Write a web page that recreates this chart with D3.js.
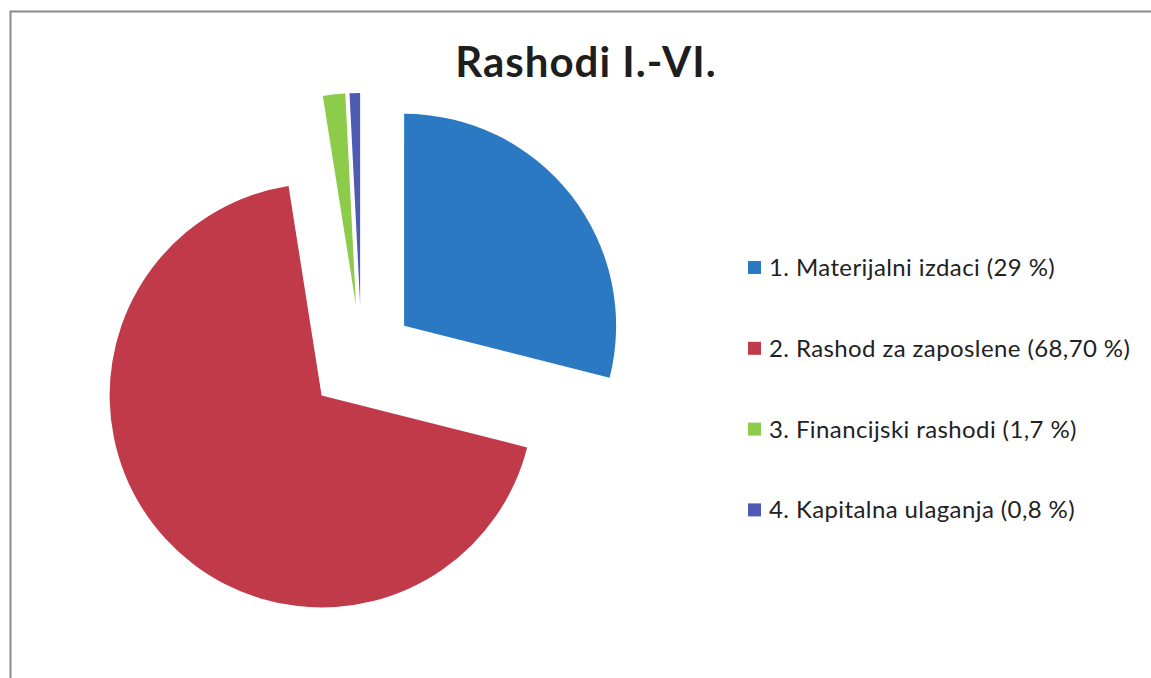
<!DOCTYPE html>
<html>
<head>
<meta charset="utf-8">
<script src="https://cdn.jsdelivr.net/npm/d3@7"></script>
<style>
  body { margin: 0; background: #fff; }
  svg { display: block; }
</style>
</head>
<body>
<div class="container"></div>
<script>
// data
const title = 'Rashodi I.-VI.';
const categories = ['1. Materijalni izdaci', '2. Rashod za zaposlene', '3. Financijski rashodi', '4. Kapitalna ulaganja'];
const values = [29, 68.7, 1.7, 0.8];
const valueLabels = ['29 %', '68,70 %', '1,7 %', '0,8 %'];

// config
const config = {
  width: 1151,
  height: 678,
  center: { x: 361.5, y: 359 },
  radius: 212,
  explode: 54,
  legend: { x: 748, y: 267.5, step: 80.8, box: 13, textGap: 8 },
  color: ['#2b79c2', '#c13a4a', '#8dcc4b', '#4f5ab5'],
};

const svg = d3.select('.container')
  .append('svg')
  .attr('width', config.width)
  .attr('height', config.height);

// frame (top + left edge of the scanned chart box)
svg.append('path')
  .attr('d', 'M10.5,' + config.height + 'V11.5H' + config.width)
  .attr('fill', 'none')
  .attr('stroke', '#8a8a8a')
  .attr('stroke-width', 2);

// title
svg.append('text')
  .attr('x', 586)
  .attr('y', 77)
  .attr('text-anchor', 'middle')
  .style('font-family', 'Lato, "Open Sans", sans-serif')
  .style('font-weight', 'bold')
  .style('font-size', '42px')
  .style('letter-spacing', '1px')
  .style('fill', '#1e1e1e')
  .text(title);

const color = d3.scaleOrdinal().domain(categories).range(config.color);

const pie = d3.pie().sort(null).value(d => d.value);
const arc = d3.arc().innerRadius(0).outerRadius(config.radius);
const rows = categories.map((c, i) => ({ name: c, value: values[i], label: valueLabels[i] }));

// exploded slices
svg.append('g')
  .attr('transform', `translate(${config.center.x},${config.center.y})`)
  .selectAll('path')
  .data(pie(rows))
  .enter().append('path')
  .attr('d', arc)
  .attr('transform', d => {
    const a = (d.startAngle + d.endAngle) / 2;
    return `translate(${Math.sin(a) * config.explode},${-Math.cos(a) * config.explode})`;
  })
  .style('fill', d => color(d.data.name));

// legend
const legend = svg.append('g').selectAll('g')
  .data(rows)
  .enter().append('g')
  .attr('transform', (d, i) => `translate(${config.legend.x},${config.legend.y + i * config.legend.step})`);

legend.append('rect')
  .attr('x', 0)
  .attr('y', -config.legend.box / 2)
  .attr('width', config.legend.box)
  .attr('height', config.legend.box)
  .style('fill', d => color(d.name));

legend.append('text')
  .attr('x', config.legend.box + config.legend.textGap)
  .attr('y', 8.5)
  .style('font-family', 'Lato, "Open Sans", sans-serif')
  .style('font-size', '24px')
  .style('letter-spacing', '0.4px')
  .style('fill', '#222')
  .text(d => `${d.name} (${d.label})`);
</script>
</body>
</html>
